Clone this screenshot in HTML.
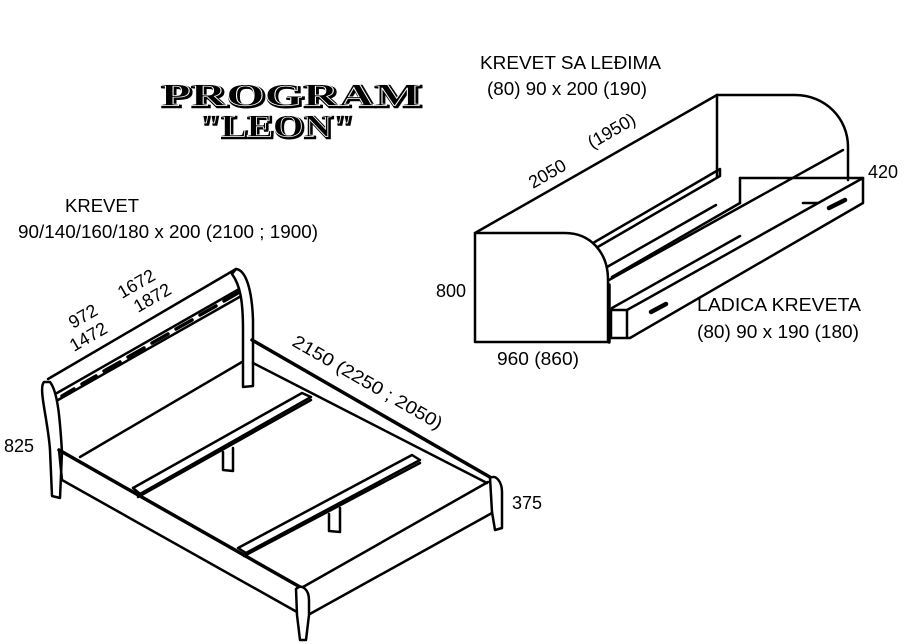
<!DOCTYPE html>
<html><head><meta charset="utf-8"><style>
html,body{margin:0;padding:0;background:#fff;width:909px;height:644px;overflow:hidden}
svg{display:block}
text{font-family:"Liberation Sans",sans-serif;font-size:18px;fill:#000}
.t{font-family:"Liberation Serif",serif;font-weight:bold;font-size:32px;fill:#000;stroke:#000;stroke-width:2.5}
</style></head><body>
<svg width="909" height="644" viewBox="0 0 909 644" xmlns="http://www.w3.org/2000/svg">
<!-- Title -->
<text class="t" x="162" y="107" textLength="260" lengthAdjust="spacingAndGlyphs">PROGRAM</text>
<text class="t" x="200" y="138" textLength="155" lengthAdjust="spacingAndGlyphs">"LEON"</text>
<text class="t" x="162" y="107" textLength="260" lengthAdjust="spacingAndGlyphs" style="fill:none;stroke:#fff;stroke-width:0.7" transform="translate(-1.5,-1.5)">PROGRAM</text>
<text class="t" x="200" y="138" textLength="155" lengthAdjust="spacingAndGlyphs" style="fill:none;stroke:#fff;stroke-width:0.7" transform="translate(-1.5,-1.5)">"LEON"</text>

<!-- labels -->
<text x="480" y="69" textLength="181" lengthAdjust="spacingAndGlyphs">KREVET SA LEĐIMA</text>
<text x="487" y="95" textLength="160" lengthAdjust="spacingAndGlyphs">(80) 90 x 200 (190)</text>
<text x="65" y="212" textLength="74" lengthAdjust="spacingAndGlyphs">KREVET</text>
<text x="18" y="238" textLength="300" lengthAdjust="spacingAndGlyphs">90/140/160/180 x 200 (2100 ; 1900)</text>
<text x="4" y="452">825</text>
<text x="512" y="509">375</text>
<text x="436" y="297">800</text>
<text x="868" y="178">420</text>
<text x="497" y="365" textLength="82" lengthAdjust="spacingAndGlyphs">960 (860)</text>
<text x="697" y="311" textLength="164" lengthAdjust="spacingAndGlyphs">LADICA KREVETA</text>
<text x="697" y="338" textLength="162" lengthAdjust="spacingAndGlyphs">(80) 90 x 190 (180)</text>
<text transform="translate(533,189) rotate(-30)">2050</text>
<text transform="translate(592,149) rotate(-30)">(1950)</text>
<text transform="translate(73,329) rotate(-30)">972</text>
<text transform="translate(74,352) rotate(-30)">1472</text>
<text transform="translate(122,299) rotate(-30)">1672</text>
<text transform="translate(138,313) rotate(-30)">1872</text>
<text transform="translate(291,345) rotate(30)" textLength="170" lengthAdjust="spacingAndGlyphs">2150  (2250 ; 2050)</text>

<g fill="none" stroke="#000" stroke-width="2.5" stroke-linejoin="round" stroke-linecap="round">
<!-- BED -->
<path d="M44,382 C38,388 48,420 50,450 L52,496 L60,498 L62,452 C60,420 58,392 50,382 Z" fill="#fff"/>
<path d="M48,379 L236,269"/>
<path d="M57,393 L241,288"/>
<path d="M58,400 L243,295"/>
<g stroke-width="3.5">
<path d="M62,396 L74,389 M82,384 L96,376 M104,371 L120,362 M128,357 L144,348 M152,343 L168,334 M176,329 L192,320 M200,315 L216,306 M224,301 L238,293"/>
</g>
<path d="M236,269 C246,270 252,290 253,320 L253,386 L243,387 L243,330 C243,300 240,285 232,274 Z" fill="#fff"/>
<path d="M80,457 L242,362"/>
<path d="M59,450 L300,587" stroke-width="3.5"/>
<path d="M62,480 L297,612"/>
<path d="M59,450 L62,480"/>
<path d="M252,340 L495,480" stroke-width="3.5"/>
<path d="M253,363 L487,483"/>
<path d="M133,488 L302,393 L311,397 L140,494 Z" fill="#fff"/>
<path d="M138,497 L311,400"/>
<path d="M238,548 L412,455 L420,460 L246,553 Z" fill="#fff"/>
<path d="M244,556 L420,463"/>
<path d="M223,452 L223,470 L233,471 L233,448"/>
<path d="M329,514 L329,531 L340,532 L340,508"/>
<path d="M303,587 L488,482"/>
<path d="M308,615 L492,513"/>
<path d="M296,589 C302,583 309,590 309,600 L309,615 L306,640 L300,640 L297,615 Z" fill="#fff"/>
<path d="M490,478 C496,474 502,482 502,492 L502,528 L495,530 L492,512 Z" fill="#fff"/>

<!-- SOFA BED -->
<path d="M475,233 L717,95"/>
<path d="M717,95 L717,177"/>
<path d="M717,95 L795,95 C825,95 848,118 848,147 L848,180"/>
<path d="M593,243 L720,169 L720,176 L596,248"/>
<path d="M607,267 L716,205"/>
<path d="M609,280 L843,150"/>
<path d="M475,233 L565,233 C590,233 608,252 608,280 L608,342 L475,342 Z" fill="#fff"/>
<path d="M609,285 L609,342" stroke-width="3.5"/>
<!-- drawer -->
<path d="M612,308 L740,236"/>
<path d="M740,178 L863,178"/>
<path d="M740,178 L740,203"/>
<path d="M740,203 L612,277"/>
<path d="M611,310 L627,310 L863,178 L863,203 L630,338 L611,338 Z" fill="#fff"/>
<path d="M627,310 L627,338"/>
<path d="M803,203 L818,203"/>
<g stroke-width="4.5"><path d="M651,312 L666,304"/><path d="M829,208 L845,200"/></g>
</g>
</svg>
</body></html>
